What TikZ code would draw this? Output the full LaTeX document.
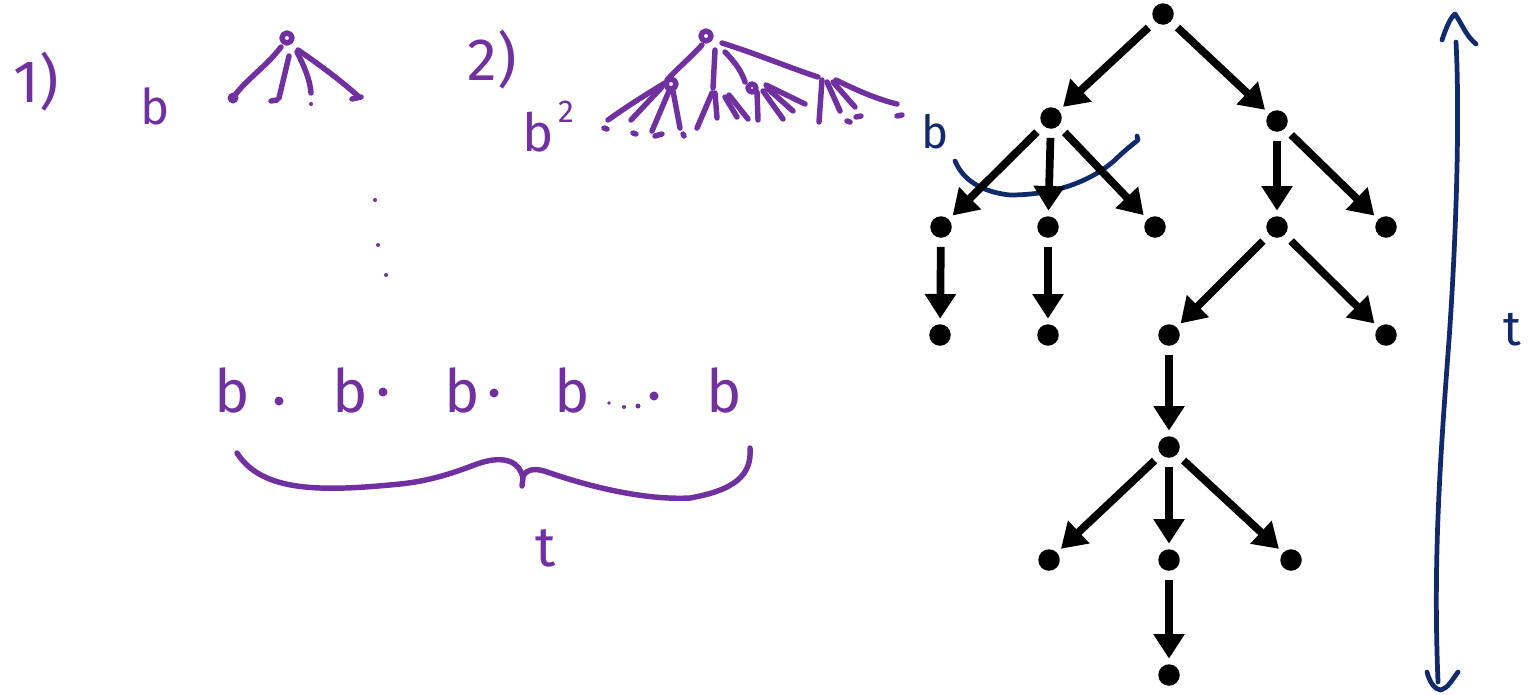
\documentclass[tikz,border=0pt]{standalone}
\usepackage{fontspec}
\setmainfont{Fira Sans}
\usetikzlibrary{arrows.meta}
\definecolor{pur}{HTML}{7030A0}
\definecolor{dblue}{HTML}{102A6C}
\begin{document}
\begin{tikzpicture}[x=0.02cm,y=-0.02cm,
  dot/.style={circle,fill=black,inner sep=0pt,minimum size=0.43cm},
  arr/.style={line width=4.4pt,-{Triangle[length=14pt,width=17pt]},shorten <=5pt,shorten >=3pt},
  pen/.style={pur,line width=3.1pt,line cap=round,line join=round},
  bpen/.style={dblue,line width=2.7pt,line cap=round,line join=round},
  hand/.style={pur,inner sep=0pt,font=\fontsize{34}{34}\selectfont},
  handsm/.style={pur,inner sep=0pt,font=\fontsize{28}{28}\selectfont},
  bhand/.style={dblue,inner sep=0pt,font=\fontsize{24}{24}\selectfont}]
\useasboundingbox (0,0) rectangle (1537,694);
% ---------- labels 1) and 2)
\node[hand] (one) at (36,82) {1)};
\node[hand] (two) at (492,60) {2)};
\node[handsm] (b1) at (155,106) {b};
% ---------- sketch tree 1
\draw[pen] (287,38) circle (5);
\draw[pen] (281,47) .. controls (265,68) and (245,80) .. (233,98);
\fill[pur] (233,98) circle (5.5);
\draw[pen] (289,56) -- (279,98); \draw[pen] (271,101) -- (277,100);
\draw[pen] (297,52) .. controls (305,68) and (310,80) .. (311,93);
\fill[pur] (311,104) circle (2);
\draw[pen] (298,50) .. controls (320,65) and (340,80) .. (358,96);
\draw[pen] (352,99) -- (361,97);
% vertical ellipsis
\fill[pur] (375,200) circle (2);
\fill[pur] (378,245) circle (2);
\fill[pur] (386,275) circle (2);
% ---------- b^2 label
\node[hand, font=\fontsize{30}{30}\selectfont] (b2) at (538,132) {b};
\node[handsm, font=\fontsize{18}{18}\selectfont] (sq) at (566,112) {2};
% ---------- sketch tree 2
\draw[pen] (706,36) circle (5);
\draw[pen] (702,45) .. controls (690,58) and (678,68) .. (667,80);
\draw[pen] (671,84) circle (5);
\draw[pen] (715,50) -- (713,88);
\draw[pen] (725,52) .. controls (735,62) and (742,72) .. (745,82);
\draw[pen] (722,43) .. controls (760,55) and (790,68) .. (818,77);
% left child's children
\draw[pen] (665,83) .. controls (640,98) and (622,110) .. (608,120);
\draw[pen] (662,87) -- (631,120);
\draw[pen] (669,91) -- (652,131);
\draw[pen] (673,91) -- (680,128);
\draw[pen] (604,128) -- (607,129); \draw[pen] (633,133) -- (636,134);
\draw[pen] (655,136) -- (662,134); \draw[pen] (683,134) -- (684,136);
% middle child's children
\draw[pen] (712,93) -- (697,128);
\draw[pen] (715,93) -- (717,118);
\draw[pen] (725,97) -- (737,117);
\draw[pen] (729,95) -- (748,119);
% third child
\draw[pen] (752,88) circle (4);
\draw[pen] (757,92) -- (758,120);
\draw[pen] (763,91) -- (783,119);
\draw[pen] (767,88) -- (793,111);
\draw[pen] (766,85) -- (805,104);
% right child
\draw[pen] (822,80) -- (819,122);
\draw[pen] (827,82) -- (840,111);
\draw[pen] (833,82) -- (855,107);
\draw[pen] (836,80) .. controls (860,92) and (880,100) .. (897,104);
\draw[pen] (847,121) -- (850,122); \draw[pen] (856,117) -- (861,116);
\draw[pen] (897,116) -- (902,115);
% dark-blue b and arc
\node[bhand, font=\fontsize{26}{26}\selectfont] (bb) at (935,132) {b};
\draw[bpen] (955,161) .. controls (965,185) and (990,193) .. (1010,195)
  .. controls (1060,195) and (1095,178) .. (1115,160)
  .. controls (1125,150) and (1132,145) .. (1138,140) -- (1137,136);
% ---------- b . b . b . b ... . b row
\node[hand] (r1) at (232,390) {b};
\fill[pur] (279,401) circle (4.5);
\node[hand] (r2) at (350,390) {b};
\fill[pur] (383,392) circle (4.5);
\node[hand] (r3) at (462,390) {b};
\fill[pur] (494,393) circle (4.5);
\node[hand] (r4) at (572,390) {b};
\fill[pur] (609,403) circle (1.8);
\fill[pur] (624,407) circle (2);
\fill[pur] (638,406) circle (2.5);
\fill[pur] (654,396) circle (4.5);
\node[hand] (r5) at (724,390) {b};
% brace
\draw[pen] (237,453) .. controls (262,492) and (320,492) .. (400,484)
  .. controls (440,480) and (470,466) .. (480,463)
  .. controls (505,455) and (520,462) .. (523,478) -- (522,486);
\draw[pen] (523,476) .. controls (528,468) and (537,468) .. (550,473)
  .. controls (600,490) and (650,500) .. (690,498)
  .. controls (735,490) and (752,475) .. (750,448);
\node[hand, font=\fontsize{32}{32}\selectfont] (tb) at (546,548) {t};
% ---------- black tree
\node[dot] (R)   at (1163,14) {};
\node[dot] (A)   at (1051,118) {};
\node[dot] (B)   at (1277,121) {};
\node[dot] (A1)  at (941,227) {};
\node[dot] (A2)  at (1048,227) {};
\node[dot] (A3)  at (1155,227) {};
\node[dot] (B1)  at (1277,227) {};
\node[dot] (B2)  at (1386,227) {};
\node[dot] (A1a) at (940,335) {};
\node[dot] (A2a) at (1048,335) {};
\node[dot] (B1a) at (1169,335) {};
\node[dot] (B1b) at (1386,335) {};
\node[dot] (C)   at (1169,447) {};
\node[dot] (C1)  at (1049,560) {};
\node[dot] (C2)  at (1169,560) {};
\node[dot] (C3)  at (1291,560) {};
\node[dot] (D)   at (1169,675) {};
\foreach \s/\t in {R/A,R/B,A/A1,A/A2,A/A3,B/B1,B/B2,A1/A1a,A2/A2a,B1/B1a,B1/B1b,B1a/C,C/C1,C/C2,C/C3,C2/D}
  \draw[arr] (\s) -- (\t);
% ---------- dark-blue double arrow with t
\draw[bpen] (1456,42) .. controls (1460,120) and (1456,240) .. (1449,340)
  .. controls (1440,460) and (1433,560) .. (1438,682);
\draw[bpen] (1442,40) .. controls (1446,28) and (1450,18) .. (1455,14)
  .. controls (1462,24) and (1466,36) .. (1476,44);
\draw[bpen] (1427,672) .. controls (1430,684) and (1436,690) .. (1441,690)
  .. controls (1448,688) and (1452,680) .. (1458,672);
\node[bhand, font=\fontsize{28}{28}\selectfont] (tr) at (1512,330) {t};
\end{tikzpicture}
\end{document}
